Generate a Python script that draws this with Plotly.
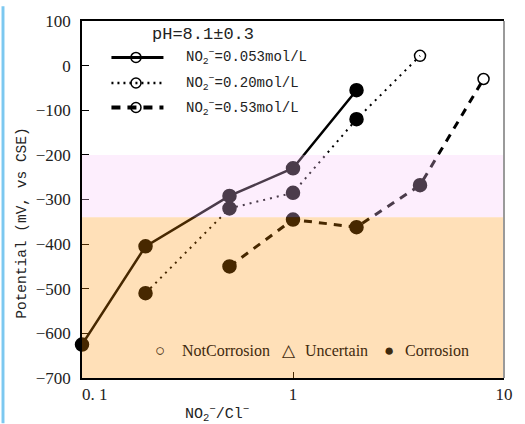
import plotly.graph_objects as go

# ---- data ----
ratio_053 = [0.1, 0.2, 0.5, 1.0, 2.0]
pot_053 = [-625, -405, -292, -230, -55]
state_053 = ["C", "C", "C", "C", "C"]

ratio_020 = [0.2, 0.5, 1.0, 2.0, 4.0]
pot_020 = [-510, -320, -285, -120, 22]
state_020 = ["C", "C", "C", "C", "N"]

ratio_053b = [0.5, 1.0, 2.0, 4.0, 8.0]
pot_053b = [-450, -345, -362, -268, -30]
state_053b = ["C", "C", "C", "C", "N"]

series_names = ["NO<sub>2</sub><sup>−</sup>=0.053mol/L",
                "NO<sub>2</sub><sup>−</sup>=0.20mol/L",
                "NO<sub>2</sub><sup>−</sup>=0.53mol/L"]
status_labels = ["NotCorrosion", "Uncertain", "Corrosion"]
status_glyphs = ["○", "△", "●"]
y_ticks = [100, 0, -100, -200, -300, -400, -500, -600, -700]
x_ticks = [0.1, 1, 10]
x_ticktext = ["\u2007\u2007\u20070. 1", "1", "10"]
band_uncertain = [-340, -200]
band_corrosion = [-700, -340]

# ---- layout geometry (px) ----
W, H = 525, 424
L, R, T, B = 82, 512, 15, 378
PW, PH = R - L, B - T


def px(X):
    return (X - L) / PW


def py(Y):
    return (B - Y) / PH


MONO = "Liberation Mono, monospace"
SERIF = "Liberation Serif, Times New Roman, serif"

dashes = ["solid", "2px,5px", "8px,7px"]
widths = [2.5, 2, 3]

fig = go.Figure()
for xs, ys, st, dash, w in [(ratio_053, pot_053, state_053, dashes[0], widths[0]),
                            (ratio_020, pot_020, state_020, dashes[1], widths[1]),
                            (ratio_053b, pot_053b, state_053b, dashes[2], widths[2])]:
    symbols = ["circle" if s == "C" else "circle-open" for s in st]
    sizes = [13 if s == "C" else 11 for s in st]
    fig.add_trace(go.Scatter(
        x=xs, y=ys, mode="lines+markers",
        line=dict(color="black", width=w, dash=dash),
        marker=dict(symbol=symbols, size=sizes, color="black", opacity=1,
                    line=dict(color="black", width=1.5)),
        cliponaxis=False, showlegend=False))

shapes = [
    dict(type="rect", xref="paper", yref="y", x0=0, x1=1,
         y0=band_uncertain[0], y1=band_uncertain[1],
         fillcolor="rgba(248,198,248,0.3)", line=dict(width=0), layer="above"),
    dict(type="rect", xref="paper", yref="y", x0=0, x1=1,
         y0=band_corrosion[0], y1=band_corrosion[1],
         fillcolor="rgba(255,145,0,0.28)", line=dict(width=0), layer="above"),
    # right border (gray)
    dict(type="line", xref="paper", yref="paper", x0=1, x1=1, y0=0, y1=1,
         line=dict(color="#9a9a9a", width=2), layer="above"),
    # left edge strip
    dict(type="rect", xref="paper", yref="paper", x0=px(0), x1=px(3),
         y0=py(H), y1=py(0), fillcolor="#7cc8f0", line=dict(width=0)),
]

# manual legend (top-left)
leg_y = [52, 78, 103]
leg_dash = ["solid", "2px,4px", "9px,7px"]
leg_w = [3, 2.5, 4]
annotations = []
for i in range(3):
    shapes.append(dict(type="line", xref="paper", yref="paper",
                       x0=px(112), x1=px(165), y0=py(leg_y[i]), y1=py(leg_y[i]),
                       line=dict(color="black", width=leg_w[i], dash=leg_dash[i])))
    shapes.append(dict(type="circle", xref="paper", yref="paper",
                       xsizemode="pixel", ysizemode="pixel",
                       xanchor=px(137), yanchor=py(leg_y[i]),
                       x0=-5, x1=5, y0=-5, y1=5,
                       line=dict(color="black", width=1.5)))
    annotations.append(dict(xref="paper", yref="paper", x=px(186), y=py(leg_y[i]),
                            xanchor="left", yanchor="middle", showarrow=False,
                            text=series_names[i],
                            font=dict(family=MONO, size=14, color="#222")))

# bottom status legend
glyph_x = [161, 293, 395]
label_x = [182, 307, 409]
for g, lab, gx, lx in zip(status_glyphs, status_labels, glyph_x, label_x):
    annotations.append(dict(xref="paper", yref="paper", x=px(gx), y=py(350),
                            xanchor="center", yanchor="middle", showarrow=False,
                            text=g, font=dict(family=SERIF, size=17, color="#3f2a0e")))
    annotations.append(dict(xref="paper", yref="paper", x=px(lx), y=py(350),
                            xanchor="left", yanchor="middle", showarrow=False,
                            text=lab, font=dict(family=SERIF, size=16, color="#3f2a0e")))

annotations += [
    dict(xref="paper", yref="paper", x=px(205), y=py(29), showarrow=False,
         xanchor="center", yanchor="middle", text="pH=8.1±0.3",
         font=dict(family=MONO, size=17, color="#222")),
    dict(xref="paper", yref="paper", x=px(20), y=py(221), showarrow=False,
         xanchor="center", yanchor="middle", textangle=-90,
         text="Potential (mV, vs CSE)",
         font=dict(family=MONO, size=14.5, color="#222")),
    dict(xref="paper", yref="paper", x=px(220), y=py(414), showarrow=False,
         xanchor="center", yanchor="middle",
         text="NO<sub>2</sub><sup>−</sup>/Cl<sup>−</sup>",
         font=dict(family=MONO, size=15, color="#222")),
]

fig.update_layout(
    width=W, height=H,
    margin=dict(l=L, r=W - R, t=T, b=H - B),
    plot_bgcolor="white", paper_bgcolor="white",
    shapes=shapes, annotations=annotations, showlegend=False,
    xaxis=dict(type="log", range=[-1, 1], tickvals=x_ticks, ticktext=x_ticktext,
               ticks="inside", ticklen=6, tickcolor="black", showgrid=False,
               zeroline=False, showline=True, linecolor="black", linewidth=1.5,
               mirror=True, tickfont=dict(family=SERIF, size=17, color="#222")),
    yaxis=dict(range=[-700, 100], tickvals=y_ticks,
               ticks="inside", ticklen=7, tickcolor="black", showgrid=False,
               zeroline=False, showline=True, linecolor="black", linewidth=1.5,
               ticklabelstandoff=6,
               tickfont=dict(family=SERIF, size=17, color="#222")),
)

fig.write_html(
    "out.html",
    config={"displayModeBar": False},
    post_script="document.body.style.margin='0';document.body.style.overflow='hidden';"
                "document.documentElement.style.overflow='hidden';",
)
